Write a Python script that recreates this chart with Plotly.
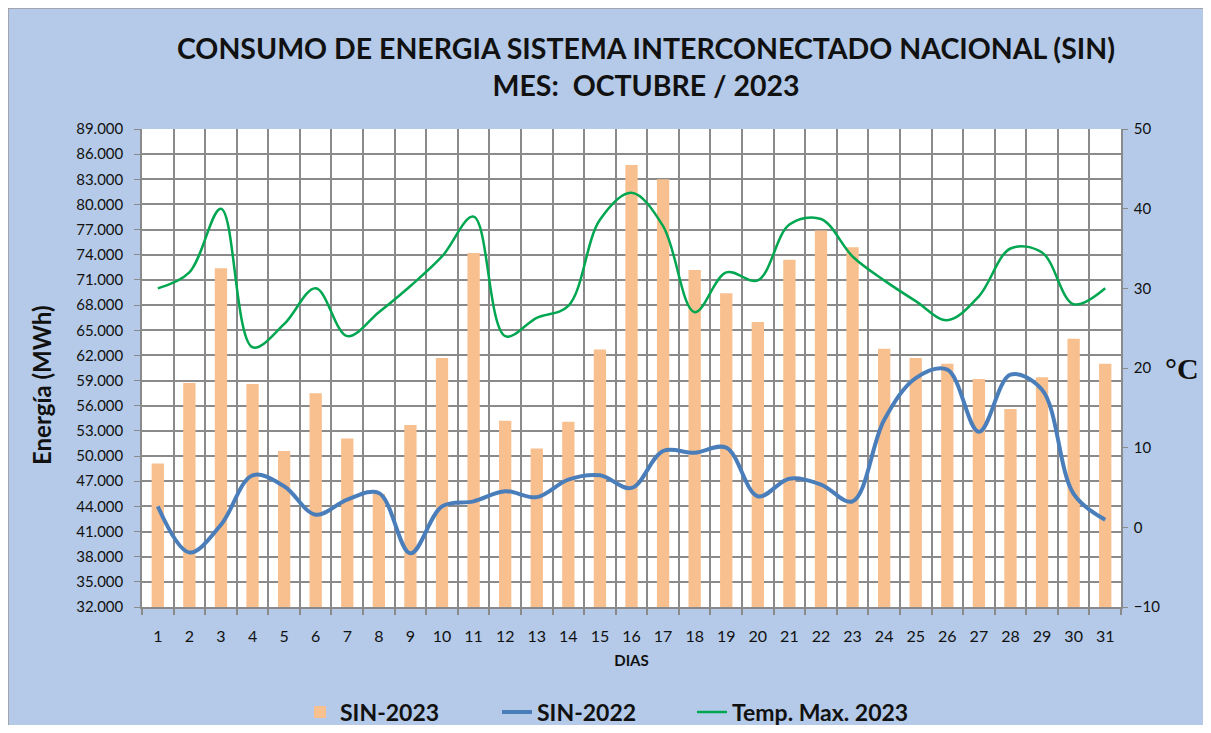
import plotly.graph_objects as go

days = list(range(1, 32))
sin_2023 = [49100, 58700, 72400, 58600, 50600, 57500, 52100, 45500, 53700, 61700,
            74200, 54200, 50900, 54100, 62700, 84700, 83000, 72200, 69400, 66000,
            73400, 76900, 74900, 62800, 61700, 61000, 59200, 55600, 59400, 64000, 61000]
sin_2022 = [44000, 38500, 41800, 47700, 46400, 43000, 44800, 45600, 38400, 44000,
            44600, 45800, 45100, 47200, 47700, 46200, 50600, 50400, 51000, 45200,
            47300, 46600, 44600, 54300, 59300, 60300, 52900, 59700, 57900, 45500, 42400]
temp_max = [30, 32, 40, 22.6, 25.5, 30, 24, 27, 30.3, 34,
            39, 24, 26.3, 27.8, 38.6, 42, 37.8, 27, 32, 31,
            38, 38.7, 34, 31, 28.4, 26, 29, 35, 34.5, 28, 30]

energy_ticks = list(range(32000, 89001, 3000))
energy_labels = [f"{v:,}".replace(",", ".") for v in energy_ticks]
temp_ticks = [-10, 0, 10, 20, 30, 40, 50]

# page offset (body margin) of the browser
OFF = 8
W, H = 1195, 717
L, T = 142 - OFF, 129 - OFF
R = W - (1121 - OFF)
B = H - (607 - OFF)
pw, ph = W - L - R, H - T - B


def px_x(sx):
    return (sx - OFF - L) / pw


def px_y(sy):
    return (H - B - (sy - OFF)) / ph


grid = "#8a8a8a"
font = "Lato"
ink = "#111111"

fig = go.Figure()
fig.add_trace(go.Bar(x=days, y=sin_2023, name="<b>SIN-2023</b>", marker_color="#f9c08f",
                     marker_line_width=0, width=0.39, legend="legend"))
fig.add_trace(go.Scatter(x=days, y=sin_2022, name="<b>SIN-2022</b>", mode="lines",
                         line=dict(color="#4a7ebb", width=4, shape="spline", smoothing=1.0),
                         legend="legend2"))
fig.add_trace(go.Scatter(x=days, y=temp_max, name="<b>Temp. Max. 2023</b>", mode="lines", yaxis="y2",
                         line=dict(color="#00a650", width=2.5, shape="spline", smoothing=1.0),
                         legend="legend3"))

legend_common = dict(orientation="h", xanchor="left", y=px_y(712), yanchor="middle",
                     font=dict(size=23, color=ink), bgcolor="rgba(0,0,0,0)")

fig.update_layout(
    width=W, height=H,
    margin=dict(l=L, r=R, t=T, b=B, autoexpand=False),
    paper_bgcolor="#b4cae8",
    plot_bgcolor="white",
    font=dict(family=font, color=ink, size=15),
    title=dict(text="CONSUMO DE ENERGIA SISTEMA INTERCONECTADO NACIONAL (SIN)<br>MES:  OCTUBRE / 2023",
               x=(646 - OFF) / W, xanchor="center", y=1 - (58.5 - OFF) / H, yanchor="middle",
               yref="container",
               font=dict(family=font, size=28.5, color=ink, weight="bold")),
    xaxis=dict(range=[0.5, 31.5], tickvals=days, ticktext=[str(d) for d in days],
               showgrid=False, ticks="", showline=True, linecolor=grid, linewidth=1.5,
               tickfont=dict(size=16), zeroline=False, ticklabelstandoff=14,
               minor=dict(tickvals=[d + 0.5 for d in range(0, 32)], showgrid=True,
                          gridcolor=grid, gridwidth=1.5, ticks="outside", ticklen=6,
                          tickcolor=grid, tickwidth=1.5),
               title=dict(text="<b>DIAS</b>", font=dict(size=15), standoff=12)),
    yaxis=dict(range=[32000, 89000], tickvals=energy_ticks, ticktext=energy_labels,
               showgrid=True, gridcolor=grid, gridwidth=1.5, showline=True, linecolor=grid,
               linewidth=1.5, ticks="outside", ticklen=6, tickcolor=grid, zeroline=False,
               tickfont=dict(size=15), ticklabelstandoff=8),
    yaxis2=dict(range=[-10, 50], tickvals=temp_ticks, overlaying="y", side="right",
                showgrid=False, showline=True, linecolor=grid, linewidth=1.5,
                ticks="outside", ticklen=5, tickcolor=grid, zeroline=False,
                tickfont=dict(size=15), ticklabelstandoff=3),
    legend=dict(x=px_x(300), **legend_common),
    legend2=dict(x=px_x(497), **legend_common),
    legend3=dict(x=px_x(692), **legend_common),
    showlegend=True,
)

# thin grey frame around the blue panel
fig.add_shape(type="rect", xref="paper", yref="paper",
              x0=px_x(OFF), x1=px_x(OFF + W + 4), y0=px_y(OFF + H + 4), y1=px_y(OFF),
              fillcolor="rgba(0,0,0,0)", line=dict(color="#9a9a9a", width=1.5), layer="below")

fig.add_annotation(text="<b>Energía (MWh)</b>", xref="paper", yref="paper",
                   x=px_x(41), y=px_y(385), xanchor="center", yanchor="middle",
                   textangle=-90, showarrow=False,
                   font=dict(family=font, size=24, color=ink))
fig.add_annotation(text="<b>°C</b>", xref="paper", yref="paper",
                   x=px_x(1182), y=px_y(368), xanchor="center", yanchor="middle",
                   showarrow=False,
                   font=dict(family="Liberation Serif", size=30, color=ink))

fig.write_html("out.html")
